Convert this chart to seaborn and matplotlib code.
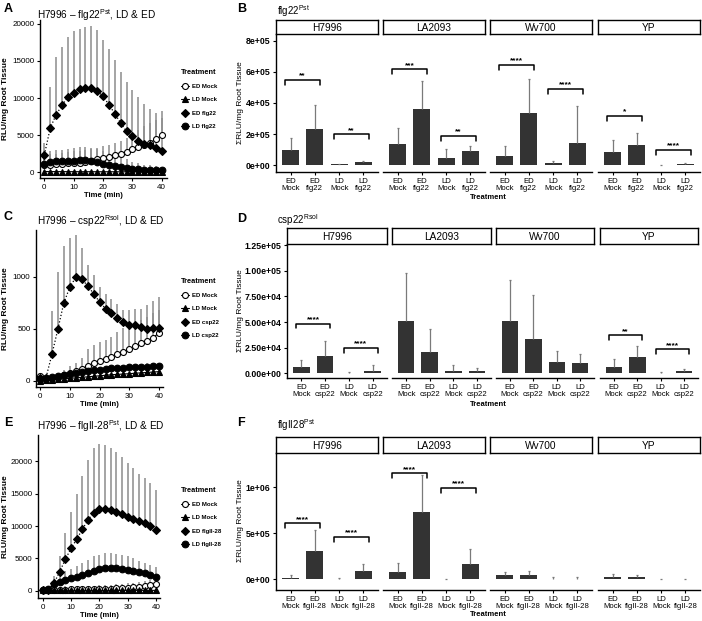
import numpy as np
import pandas as pd
import matplotlib
matplotlib.use("Agg")
import matplotlib.pyplot as plt
from matplotlib.lines import Line2D
import seaborn as sns

# ---------------- data ----------------
TIME = [0, 2, 4, 6, 8, 10, 12, 14, 16, 18, 20, 22, 24, 26, 28, 30, 32, 34, 36, 38, 40]

# Panel A  (flg22)
A_ED_MOCK = [950, 1000, 1050, 1100, 1150, 1200, 1250, 1350, 1550, 1710, 1890, 2030, 2250, 2480, 2700, 3060, 3380, 3600, 3960, 4410, 4950]
A_ED_MOCK_UP = [2300, 2400, 2500, 2600, 2700, 2800, 2900, 3000, 3100, 3300, 3500, 3700, 3900, 4200, 4600, 5200, 5700, 6200, 6600, 7000, 7300]
A_LD_MOCK = [60, 55, 50, 50, 45, 45, 40, 40, 40, 35, 35, 35, 30, 30, 30, 30, 25, 25, 25, 25, 25]
A_LD_MOCK_UP = [200, 190, 180, 170, 160, 150, 150, 140, 140, 130, 130, 120, 120, 110, 110, 110, 100, 100, 100, 100, 100]
A_ED_FLG = [2340, 5950, 7750, 9000, 10140, 10720, 11170, 11350, 11350, 10950, 10230, 9100, 7880, 6620, 5500, 4860, 4140, 3780, 3690, 3290, 2790]
A_ED_FLG_UP = [3900, 11490, 15540, 16900, 18240, 19000, 19370, 19600, 19700, 19150, 17800, 16670, 15090, 13510, 12160, 11040, 10140, 9230, 8470, 8020, 8200]
A_LD_FLG = [1040, 1350, 1440, 1490, 1490, 1530, 1580, 1580, 1490, 1350, 1130, 900, 770, 630, 540, 450, 360, 315, 270, 260, 225]
A_LD_FLG_UP = [2900, 2900, 3000, 3000, 3100, 3300, 3400, 3400, 3300, 3100, 2900, 2600, 2300, 2000, 1700, 1400, 1200, 1000, 900, 800, 700]

# Panel C  (csp22)
C_ED_MOCK = [45, 20, 26, 42, 58, 73, 96, 115, 147, 169, 192, 211, 233, 256, 281, 307, 335, 361, 387, 415, 466]
C_ED_MOCK_UP = [70, 40, 50, 80, 110, 140, 170, 217, 307, 345, 377, 393, 425, 473, 505, 530, 560, 590, 620, 650, 680]
C_LD_MOCK = [0, 5, 10, 15, 20, 25, 30, 35, 40, 45, 50, 55, 60, 63, 67, 70, 75, 78, 82, 86, 90]
C_LD_MOCK_UP = [15, 20, 25, 30, 35, 40, 45, 50, 55, 60, 65, 70, 75, 78, 82, 85, 90, 93, 97, 101, 105]
C_ED_CSP = [25, 30, 255, 498, 751, 901, 997, 984, 914, 840, 760, 697, 649, 601, 569, 543, 537, 521, 498, 511, 511]
C_ED_CSP_UP = [73, 45, 671, 1048, 1297, 1374, 1400, 1278, 1118, 1016, 904, 840, 792, 744, 681, 681, 697, 697, 729, 767, 808]
C_LD_CSP = [20, 25, 35, 45, 60, 70, 80, 90, 100, 105, 110, 115, 120, 125, 128, 130, 132, 135, 138, 140, 145]
C_LD_CSP_UP = [40, 45, 55, 70, 85, 95, 105, 115, 125, 130, 135, 140, 145, 150, 155, 160, 162, 165, 170, 172, 175]

# Panel E  (flgII-28)
E_ED_MOCK = [150, 150, 160, 170, 180, 190, 200, 210, 220, 240, 260, 280, 310, 350, 400, 460, 530, 620, 730, 860, 1050]
E_ED_MOCK_UP = [600, 600, 620, 650, 680, 700, 720, 740, 760, 800, 840, 880, 920, 980, 1050, 1150, 1250, 1400, 1550, 1700, 1900]
E_LD_MOCK = [80, 70, 70, 60, 60, 60, 60, 55, 55, 55, 50, 50, 50, 50, 50, 50, 50, 50, 50, 50, 50]
E_LD_MOCK_UP = [300, 280, 270, 260, 250, 250, 250, 240, 240, 240, 230, 230, 230, 230, 230, 230, 230, 230, 230, 230, 230]
E_ED_FLG = [50, 50, 1140, 2950, 4860, 6560, 7960, 9510, 10960, 12090, 12610, 12710, 12510, 12200, 11890, 11470, 11060, 10750, 10440, 10030, 9410]
E_ED_FLG_UP = [300, 400, 2270, 5380, 8990, 12250, 15000, 17780, 20260, 22070, 22740, 22580, 22070, 21400, 20670, 19740, 18970, 18090, 17420, 16740, 15610]
E_LD_FLG = [100, 200, 1030, 1400, 1650, 1910, 2170, 2430, 2790, 3100, 3310, 3460, 3460, 3460, 3310, 3200, 3100, 2890, 2690, 2430, 2170]
E_LD_FLG_UP = [500, 800, 1800, 2500, 3000, 3400, 3800, 4300, 4800, 5300, 5600, 5800, 5800, 5700, 5600, 5300, 5000, 4600, 4300, 4000, 3700]

GENOTYPES = ["H7996", "LA2093", "Wv700", "YP"]

# Panel B (flg22 totals)
B_CATS = ["ED\nMock", "ED\nflg22", "LD\nMock", "LD\nflg22"]
B_MEAN = [[95e3, 235e3, 5e3, 18e3], [138e3, 360e3, 48e3, 90e3],
          [60e3, 338e3, 12e3, 145e3], [82e3, 132e3, 2e3, 8e3]]
B_UP = [[175e3, 390e3, 8e3, 25e3], [240e3, 545e3, 105e3, 120e3],
        [125e3, 555e3, 28e3, 380e3], [163e3, 208e3, 3e3, 14e3]]
B_SIG = [(0, 0, 1, 548e3, "**"), (0, 2, 3, 198e3, "**"),
         (1, 0, 1, 617e3, "***"), (1, 2, 3, 187e3, "**"),
         (2, 0, 1, 645e3, "****"), (2, 2, 3, 490e3, "****"),
         (3, 0, 1, 318e3, "*"), (3, 2, 3, 97e3, "****")]

# Panel D (csp22 totals)
D_CATS = ["ED\nMock", "ED\ncsp22", "LD\nMock", "LD\ncsp22"]
D_MEAN = [[5.8e3, 16.8e3, 0.6e3, 2.6e3], [51.4e3, 21.0e3, 2.6e3, 2.2e3],
          [51.4e3, 33.0e3, 10.7e3, 9.7e3], [5.8e3, 15.8e3, 0.6e3, 1.9e3]]
D_UP = [[13.0e3, 31.3e3, 1.5e3, 7.8e3], [98e3, 43.3e3, 7.8e3, 5.2e3],
        [91.4e3, 76.5e3, 21.6e3, 19e3], [14.2e3, 26.5e3, 1.3e3, 3.9e3]]
D_SIG = [(0, 0, 1, 48.5e3, "****"), (0, 2, 3, 24.9e3, "****"),
         (3, 0, 1, 37.1e3, "**"), (3, 2, 3, 23.3e3, "****")]

# Panel F (flgII-28 totals)
F_CATS = ["ED\nMock", "ED\nflgII-28", "LD\nMock", "LD\nflgII-28"]
F_MEAN = [[18e3, 308e3, 4e3, 90e3], [76e3, 736e3, 4e3, 167e3],
          [47e3, 47e3, 4e3, 7e3], [29e3, 22e3, 1e3, 3e3]]
F_UP = [[50e3, 536e3, 10e3, 167e3], [174e3, 1134e3, 8e3, 326e3],
        [80e3, 94e3, 29e3, 29e3], [54e3, 43e3, 3e3, 5e3]]
F_SIG = [(0, 0, 1, 609e3, "****"), (0, 2, 3, 457e3, "****"),
         (1, 0, 1, 1.152e6, "****"), (1, 2, 3, 990e3, "****")]

# ---------------- style ----------------
sns.set_theme(style="ticks")
plt.rcParams['font.family'] = ['Liberation Sans', 'DejaVu Sans']
plt.rcParams['mathtext.fontset'] = 'custom'
plt.rcParams['mathtext.rm'] = 'Liberation Sans'
plt.rcParams['mathtext.it'] = 'Liberation Sans:italic'
plt.rcParams['mathtext.bf'] = 'Liberation Sans:bold'
plt.rcParams['text.color'] = 'black'
plt.rcParams['axes.labelcolor'] = 'black'
plt.rcParams['xtick.color'] = 'black'
plt.rcParams['ytick.color'] = 'black'

W, H = 702, 621
fig = plt.figure(figsize=(W / 100, H / 100), dpi=100)


def rect(x0, y0, x1, y1):
    return [x0 / W, 1 - y1 / H, (x1 - x0) / W, (y1 - y0) / H]


def ftext(x, y, s, **kw):
    fig.text(x / W, 1 - y / H, s, **kw)


STYLES = [
    dict(marker='o', mfc='white', ms=4.3, ls='-', lw=0.8),
    dict(marker='^', mfc='black', ms=4.5, ls='-', lw=0.8),
    dict(marker='D', mfc='black', ms=3.6, ls=':', lw=0.9),
    dict(marker='o', mfc='black', ms=4.8, ls='-', lw=0.8),
]


def timecourse(box, means, ups, labels, ylim, yticks, xlim, leg_xy):
    ax = fig.add_axes(rect(*box))
    for m, u in zip(means, ups):
        ax.vlines(TIME, m, u, colors='#8c8c8c', lw=1.1, zorder=1)
    for m, st in zip(means, STYLES):
        df = pd.DataFrame({'Time': TIME, 'RLU': m})
        sns.lineplot(data=df, x='Time', y='RLU', ax=ax, color='black',
                     marker=st['marker'], markersize=st['ms'],
                     markerfacecolor=st['mfc'], markeredgecolor='black',
                     markeredgewidth=0.8, linestyle=st['ls'],
                     linewidth=st['lw'], zorder=3)
    ax.set_xlim(*xlim)
    ax.set_ylim(*ylim)
    ax.set_xticks([0, 10, 20, 30, 40])
    ax.set_yticks(yticks)
    ax.set_yticklabels([str(v) for v in yticks])
    for s in ['top', 'right']:
        ax.spines[s].set_visible(False)
    for s in ['left', 'bottom']:
        ax.spines[s].set_linewidth(1.0)
        ax.spines[s].set_color('black')
    ax.tick_params(labelsize=5.8, length=2.5, width=0.8, pad=1.5)
    ax.set_xlabel('Time (min)', fontsize=5.5, fontweight='bold', labelpad=1)
    ax.set_ylabel('')
    ftext(6, (box[1] + box[3]) / 2, 'RLU/mg Root Tissue', fontsize=6,
          fontweight='bold', rotation=90, ha='center', va='center')
    handles = [Line2D([0], [0], color='black', marker=st['marker'], markersize=st['ms'],
                      markerfacecolor=st['mfc'], markeredgecolor='black',
                      markeredgewidth=0.8, linestyle=st['ls'], linewidth=st['lw'])
               for st in STYLES]
    leg = ax.legend(handles, labels, title='Treatment', loc='upper left',
                    bbox_to_anchor=(leg_xy[0] / W, 1 - leg_xy[1] / H),
                    bbox_transform=fig.transFigure, frameon=False,
                    fontsize=4.3, title_fontsize=5.3, handlelength=1.4,
                    handletextpad=0.4, labelspacing=1.35, borderpad=0,
                    alignment='left')
    leg.get_title().set_fontweight('bold')
    for t in leg.get_texts():
        t.set_fontweight('bold')
    return ax


def barpanel(xranges, ytop, ybot, stop, cats, means, ups, ylim, yticks, ytl, sigs):
    axes = []
    for k, (g, (x0, x1)) in enumerate(zip(GENOTYPES, xranges)):
        ax = fig.add_axes(rect(x0, ytop, x1, ybot))
        df = pd.DataFrame({'Treatment': cats, 'val': means[k]})
        sns.barplot(data=df, x='Treatment', y='val', color='#333333', width=0.7,
                    errorbar=None, ax=ax, saturation=1, edgecolor='none')
        xs = np.arange(4)
        ax.vlines(xs, means[k], ups[k], colors='#7a7a7a', lw=0.9, zorder=3)
        ax.hlines(ups[k], xs - 0.04, xs + 0.04, colors='#7a7a7a', lw=0.9, zorder=3)
        ax.set_xlim(-0.6, 3.6)
        ax.set_ylim(*ylim)
        ax.set_xticks(xs)
        ax.set_xticklabels(cats, fontsize=5.6, linespacing=1.0)
        ax.set_xlabel('')
        ax.set_ylabel('')
        for s in ['top', 'right']:
            ax.spines[s].set_visible(False)
        ax.spines['bottom'].set_linewidth(1.0)
        ax.spines['bottom'].set_color('black')
        if k == 0:
            ax.spines['left'].set_linewidth(1.0)
            ax.spines['left'].set_color('black')
            ax.set_yticks(yticks)
            ax.set_yticklabels(ytl)
            ax.tick_params(axis='y', labelsize=6.3, length=2.5, width=0.8, pad=1.5)
        else:
            ax.spines['left'].set_visible(False)
            ax.tick_params(axis='y', left=False, labelleft=False)
        ax.tick_params(axis='x', length=2.5, width=0.8, pad=1.5)
        for lab in ax.get_yticklabels():
            lab.set_fontweight('bold')
        sax = fig.add_axes(rect(x0, stop, x1, ytop))
        sax.set_xticks([])
        sax.set_yticks([])
        sax.set_facecolor('white')
        for s in sax.spines.values():
            s.set_visible(True)
            s.set_color('black')
            s.set_linewidth(1.0)
        sax.text(0.5, 0.45, g, ha='center', va='center', fontsize=7.3,
                 transform=sax.transAxes)
        axes.append(ax)
    d = 0.035 * (ylim[1] - ylim[0])
    for (k, i, j, y, lab) in sigs:
        ax = axes[k]
        ax.plot([i - 0.22, i - 0.22, j + 0.22, j + 0.22], [y - d, y, y, y - d],
                color='black', lw=1.1, zorder=4, clip_on=False)
        ax.text((i + j) / 2, y + 0.004 * (ylim[1] - ylim[0]), lab, ha='center',
                va='bottom', fontsize=6, fontweight='bold')
    return axes


FAC_X = [(276, 378), (383, 485), (490, 592), (598, 700)]
FAC_X_D = [(287, 387), (392, 491), (496, 594), (600, 698)]

# ---- A ----
timecourse((40, 20, 167, 178), [A_ED_MOCK, A_LD_MOCK, A_ED_FLG, A_LD_FLG],
           [A_ED_MOCK_UP, A_LD_MOCK_UP, A_ED_FLG_UP, A_LD_FLG_UP],
           ['ED Mock', 'LD Mock', 'ED flg22', 'LD flg22'],
           (-810, 20540), [0, 5000, 10000, 15000, 20000], (-1.5, 41.8), (178, 66))
# ---- C ----
timecourse((36, 230, 163, 387), [C_ED_MOCK, C_LD_MOCK, C_ED_CSP, C_LD_CSP],
           [C_ED_MOCK_UP, C_LD_MOCK_UP, C_ED_CSP_UP, C_LD_CSP_UP],
           ['ED Mock', 'LD Mock', 'ED csp22', 'LD csp22'],
           (-58, 1452), [0, 500, 1000], (-1.34, 41.3), (178, 275))
# ---- E ----
timecourse((38, 435, 160, 598), [E_ED_MOCK, E_LD_MOCK, E_ED_FLG, E_LD_FLG],
           [E_ED_MOCK_UP, E_LD_MOCK_UP, E_ED_FLG_UP, E_LD_FLG_UP],
           ['ED Mock', 'LD Mock', 'ED flgII-28', 'LD flgII-28'],
           (-1130, 24100), [0, 5000, 10000, 15000, 20000], (-1.66, 41.4), (178, 484))

# ---- B ----
barpanel(FAC_X, 34, 172, 20, B_CATS, B_MEAN, B_UP, (-45e3, 845e3),
         [0, 2e5, 4e5, 6e5, 8e5], ['0e+00', '2e+05', '4e+05', '6e+05', '8e+05'], B_SIG)
# ---- D ----
barpanel(FAC_X_D, 244, 378, 228, D_CATS, D_MEAN, D_UP, (-4500, 126000),
         [0, 2.5e4, 5e4, 7.5e4, 1e5, 1.25e5],
         ['0.00e+00', '2.50e+04', '5.00e+04', '7.50e+04', '1.00e+05', '1.25e+05'], D_SIG)
# ---- F ----
barpanel(FAC_X, 453, 590, 437, F_CATS, F_MEAN, F_UP, (-116e3, 1.373e6),
         [0, 5e5, 1e6], ['0e+00', '5e+05', '1e+06'], F_SIG)

# ---- titles / labels ----
for (x, y, s) in [(4, 9, 'A'), (237, 9, 'B'), (4, 217, 'C'), (237, 219, 'D'),
                  (4, 423, 'E'), (237, 423, 'F')]:
    ftext(x, y, s, fontsize=9, fontweight='bold', ha='left', va='center')

ftext(37, 15, 'H7996 – flg22$^{\\mathregular{Pst}}$, LD & ED', fontsize=7.2, ha='left', va='center')
ftext(37, 221, 'H7996 – csp22$^{\\mathregular{Rsol}}$, LD & ED', fontsize=7.2, ha='left', va='center')
ftext(37, 426, 'H7996 – flgII-28$^{\\mathregular{Pst}}$, LD & ED', fontsize=7.2, ha='left', va='center')

ftext(277, 11, 'flg22$^{\\mathregular{Pst}}$', fontsize=7, ha='left', va='center')
ftext(277, 220, 'csp22$^{\\mathregular{Rsol}}$', fontsize=7, ha='left', va='center')
ftext(277, 425, 'flgII28$^{\\mathregular{Pst}}$', fontsize=7, ha='left', va='center')

for yc in [103, 311, 521]:
    ftext(240, yc, 'ΣRLU/mg Root Tissue', fontsize=6, rotation=90, ha='center', va='center')
for yt in [197, 404, 615]:
    ftext(488, yt, 'Treatment', fontsize=5.5, fontweight='bold', ha='center', va='center')

fig.savefig('out.png', dpi=100)
